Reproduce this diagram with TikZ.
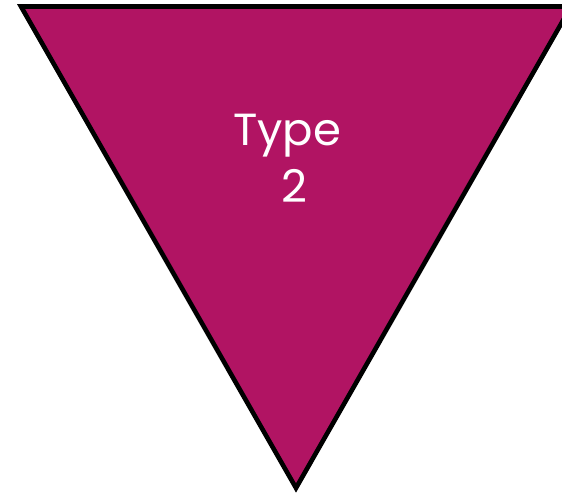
\documentclass[tikz,border=0pt]{standalone}
\usepackage{fontspec}
\setmainfont{Poppins}
\definecolor{tri}{HTML}{B11463}
\tikzset{
  trishape/.style={fill=tri, draw=black, line width=4.6pt, line join=miter},
  lbl/.style={text=white, font=\fontsize{45}{54}\selectfont, inner sep=0pt, anchor=base}
}
\begin{document}
\begin{tikzpicture}[x=1pt,y=1pt]
\useasboundingbox (0,0) rectangle (562,494);
\clip (0,0) rectangle (562,494);
\coordinate (tl) at (21,487.5);
\coordinate (tr) at (571,487.5);
\coordinate (tip) at (296,6);
\draw[trishape] (tl) -- (tr) -- (tip) -- cycle;
\node[lbl] (t1) at (287,348) {Type};
\node[lbl] (t2) at (294,291) {2};
\end{tikzpicture}
\end{document}
